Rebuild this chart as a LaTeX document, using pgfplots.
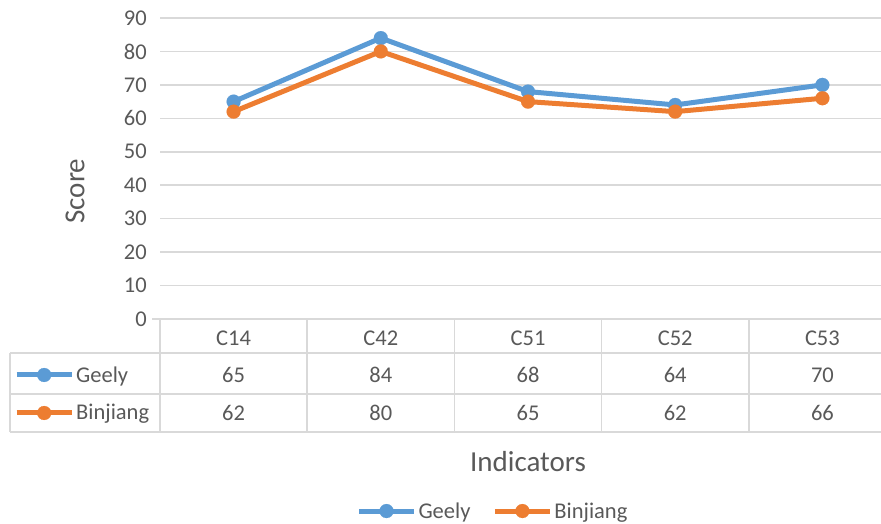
\documentclass[border=0pt]{standalone}
\usepackage{pgfplots}
\pgfplotsset{compat=1.18}
\usepackage{fontspec}
\setmainfont{Carlito}
\definecolor{geely}{HTML}{5B9BD5}
\definecolor{binj}{HTML}{ED7D31}
\definecolor{gridc}{HTML}{D9D9D9}
\definecolor{txt}{HTML}{595959}
\newcommand{\tf}{\fontsize{22.5}{26}\selectfont}
\newcommand{\lf}{\fontsize{29}{34}\selectfont}
\pgfplotsset{
  keyimg/.style={legend image code/.code={\draw[##1, mark repeat=2, mark phase=2] plot coordinates {(0pt,0pt)(27.5pt,0pt)(55pt,0pt)};}},
  geelystyle/.style={geely, line width=5pt, line join=round, mark=*, mark size=7pt, mark options={solid, fill=geely, draw=geely, line width=0.1pt}},
  binjstyle/.style={binj, line width=5pt, line join=round, mark=*, mark size=7pt, mark options={solid, fill=binj, draw=binj, line width=0.1pt}},
}
\begin{document}
\begin{tikzpicture}[x=1pt,y=1pt]
\begin{axis}[
  at={(160pt,205pt)}, anchor=south west,
  scale only axis, width=736pt, height=301pt,
  xmin=-0.5, xmax=4.5, ymin=0, ymax=90,
  ytick={0,10,...,90},
  xtick=\empty,
  ymajorgrids, grid style={gridc, line width=1.5pt},
  axis line style={draw=none},
  major tick length=0pt,
  /pgf/number format/assume math mode=true,
  yticklabel style={font=\tf, text=txt, inner sep=0pt, xshift=-13pt},
  ylabel={Score},
  ylabel style={font=\lf, text=txt, at={(axis description cs:-0.1155,0.425)}, anchor=center},
  xlabel={Indicators},
  xlabel style={font=\lf, text=txt, at={(axis description cs:0.5,-0.472)}, anchor=center},
  clip=false,
  keyimg,
  legend columns=2,
  legend style={at={(axis description cs:0.4524,-0.638)}, anchor=center, draw=none, fill=none,
    inner sep=0pt, font=\tf, text=txt, nodes={inner sep=2pt},
    /tikz/every even column/.append style={column sep=20pt}},
]
\addplot[geelystyle] coordinates {(0,65)(1,84)(2,68)(3,64)(4,70)};
\addplot[binjstyle] coordinates {(0,62)(1,80)(2,65)(3,62)(4,66)};
\legend{Geely,Binjiang}
\end{axis}
% table key rows
\begin{axis}[hide axis, scale only axis, width=100pt, height=10pt, at={(14pt,149pt)}, anchor=west,
  xmin=0, xmax=1, ymin=0, ymax=1, keyimg,
  legend style={at={(0,0.5)}, anchor=west, draw=none, fill=none, inner sep=0pt, font=\tf, text=txt, nodes={inner sep=2pt}}]
\addlegendimage{geelystyle}
\addlegendentry{Geely}
\end{axis}
\begin{axis}[hide axis, scale only axis, width=100pt, height=10pt, at={(14pt,111pt)}, anchor=west,
  xmin=0, xmax=1, ymin=0, ymax=1, keyimg,
  legend style={at={(0,0.5)}, anchor=west, draw=none, fill=none, inner sep=0pt, font=\tf, text=txt, nodes={inner sep=2pt}}]
\addlegendimage{binjstyle}
\addlegendentry{Binjiang}
\end{axis}
% table grid
\begin{scope}[gridc, line width=1.5pt]
\draw (152,205) -- (160,205);
\draw (10,171) -- (896,171);
\draw (10,130) -- (896,130);
\draw (10,92) -- (896,92);
\draw (10,171) -- (10,92);
\foreach \k in {0,...,5} {\draw ({160+147.2*\k},205) -- ({160+147.2*\k},92);}
\end{scope}
% table text
\begin{scope}[font=\tf, text=txt]
\foreach \c [count=\i from 0] in {C14,C42,C51,C52,C53} {\node at ({160+147.2*(\i+0.5)},186) {\c};}
\foreach \v [count=\i from 0] in {65,84,68,64,70} {\node at ({160+147.2*(\i+0.5)},149) {\v};}
\foreach \v [count=\i from 0] in {62,80,65,62,66} {\node at ({160+147.2*(\i+0.5)},111) {\v};}
\end{scope}
\pgfresetboundingbox
\useasboundingbox (0,0) rectangle (881,524);
\end{tikzpicture}
\end{document}
